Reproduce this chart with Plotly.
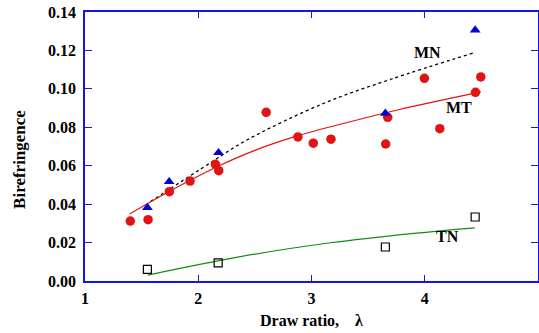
import plotly.graph_objects as go

# Measured data
mt_x = [1.40, 1.557, 1.745, 1.928, 2.152, 2.181, 2.60, 2.88, 3.016, 3.172, 3.655, 3.673, 3.997, 4.133, 4.448, 4.495]
mt_y = [0.0312, 0.0319, 0.0465, 0.0520, 0.0607, 0.0574, 0.0878, 0.0750, 0.0717, 0.0738, 0.0713, 0.0852, 0.1055, 0.0793, 0.0982, 0.1062]
mn_x = [1.551, 1.743, 2.179, 3.652, 4.445]
mn_y = [0.0382, 0.0517, 0.0668, 0.0873, 0.1306]
tn_x = [1.551, 2.176, 3.652, 4.445]
tn_y = [0.0061, 0.0094, 0.0177, 0.0333]

# Fitted curves
mn_fit_x = [1.578, 2.123, 2.43, 3.11, 3.70, 4.436]
mn_fit_y = [0.0413, 0.0621, 0.0734, 0.0925, 0.1050, 0.1188]
mt_fit_x = [1.394, 1.783, 2.167, 2.50, 2.874, 3.316, 3.759, 4.495]
mt_fit_y = [0.0349, 0.0479, 0.0595, 0.0680, 0.0755, 0.0825, 0.0890, 0.0984]
tn_fit_x = [1.554, 2.373, 3.169, 3.905, 4.442]
tn_fit_y = [0.0031, 0.0127, 0.0199, 0.0248, 0.0277]

x_ticks = [1, 2, 3, 4, 5]
y_ticks = [0.00, 0.02, 0.04, 0.06, 0.08, 0.10, 0.12, 0.14]

labels = [("MN", 4.02, 0.119), ("MT", 4.30, 0.0904), ("TN", 4.20, 0.0234)]

RED = "rgb(225,20,20)"
BLUE = "rgb(0,0,210)"
GREEN = "rgb(20,140,20)"
AXIS = "rgb(20,20,230)"
FONT = "Liberation Serif"

fig = go.Figure()
fig.add_trace(go.Scatter(x=mn_fit_x, y=mn_fit_y, mode="lines", line=dict(color="black", width=1.3, dash="dot", shape="spline"), showlegend=False))
fig.add_trace(go.Scatter(x=mt_fit_x, y=mt_fit_y, mode="lines", line=dict(color=RED, width=1.2, shape="spline"), showlegend=False))
fig.add_trace(go.Scatter(x=tn_fit_x, y=tn_fit_y, mode="lines", line=dict(color=GREEN, width=1.2, shape="spline"), showlegend=False))
fig.add_trace(go.Scatter(x=mt_x, y=mt_y, mode="markers", marker=dict(symbol="circle", size=9.5, color=RED), showlegend=False))
fig.add_trace(go.Scatter(x=mn_x, y=mn_y, mode="markers", marker=dict(symbol="triangle-up", size=9.5, color=BLUE), showlegend=False))
fig.add_trace(go.Scatter(x=tn_x, y=tn_y, mode="markers", marker=dict(symbol="square-open", size=8, color="black", line=dict(width=1.2)), showlegend=False))

for txt, lx, ly in labels:
    fig.add_annotation(x=lx, y=ly, text="<b>%s</b>" % txt, showarrow=False,
                       font=dict(family=FONT, size=16, color="black"))

fig.add_annotation(xref="paper", yref="paper", x=0.4994, y=-0.145, yanchor="middle", xanchor="center",
                   text="<b>Draw ratio,\u00a0\u00a0\u00a0\u00a0λ</b>", showarrow=False,
                   font=dict(family=FONT, size=16, color="black"))
fig.add_annotation(xref="paper", yref="paper", x=-0.1459, y=0.4535, yanchor="middle", xanchor="center",
                   text="<b>Birefringence</b>", showarrow=False, textangle=-90,
                   font=dict(family=FONT, size=17, color="black"))

fig.update_layout(
    template="none",
    width=539, height=333,
    margin=dict(l=85, r=1, t=12, b=52),
    paper_bgcolor="white", plot_bgcolor="white",
    font=dict(family=FONT, size=16, color="black"),
)
fig.update_xaxes(range=[1, 5], tickvals=x_ticks, ticktext=[("<b>%d</b>" % v) for v in x_ticks],
                 automargin=False, showgrid=False, zeroline=False, showline=True, linecolor=AXIS, linewidth=1.5,
                 mirror="ticks", ticks="inside", ticklen=6, tickcolor=AXIS, tickwidth=1.2,
                 tickfont=dict(family=FONT, size=16), ticklabelstandoff=2)
fig.update_yaxes(range=[0, 0.14], tickvals=y_ticks, ticktext=[("<b>%.2f</b>" % v) for v in y_ticks],
                 automargin=False, showgrid=False, zeroline=False, showline=True, linecolor=AXIS, linewidth=1.5,
                 mirror="ticks", ticks="inside", ticklen=7, tickcolor=AXIS, tickwidth=1.2,
                 tickfont=dict(family=FONT, size=16), ticklabelstandoff=4)

fig.write_html("out.html", config={"displayModeBar": False},
               post_script="document.body.style.margin='0px';document.body.style.overflow='hidden';")
